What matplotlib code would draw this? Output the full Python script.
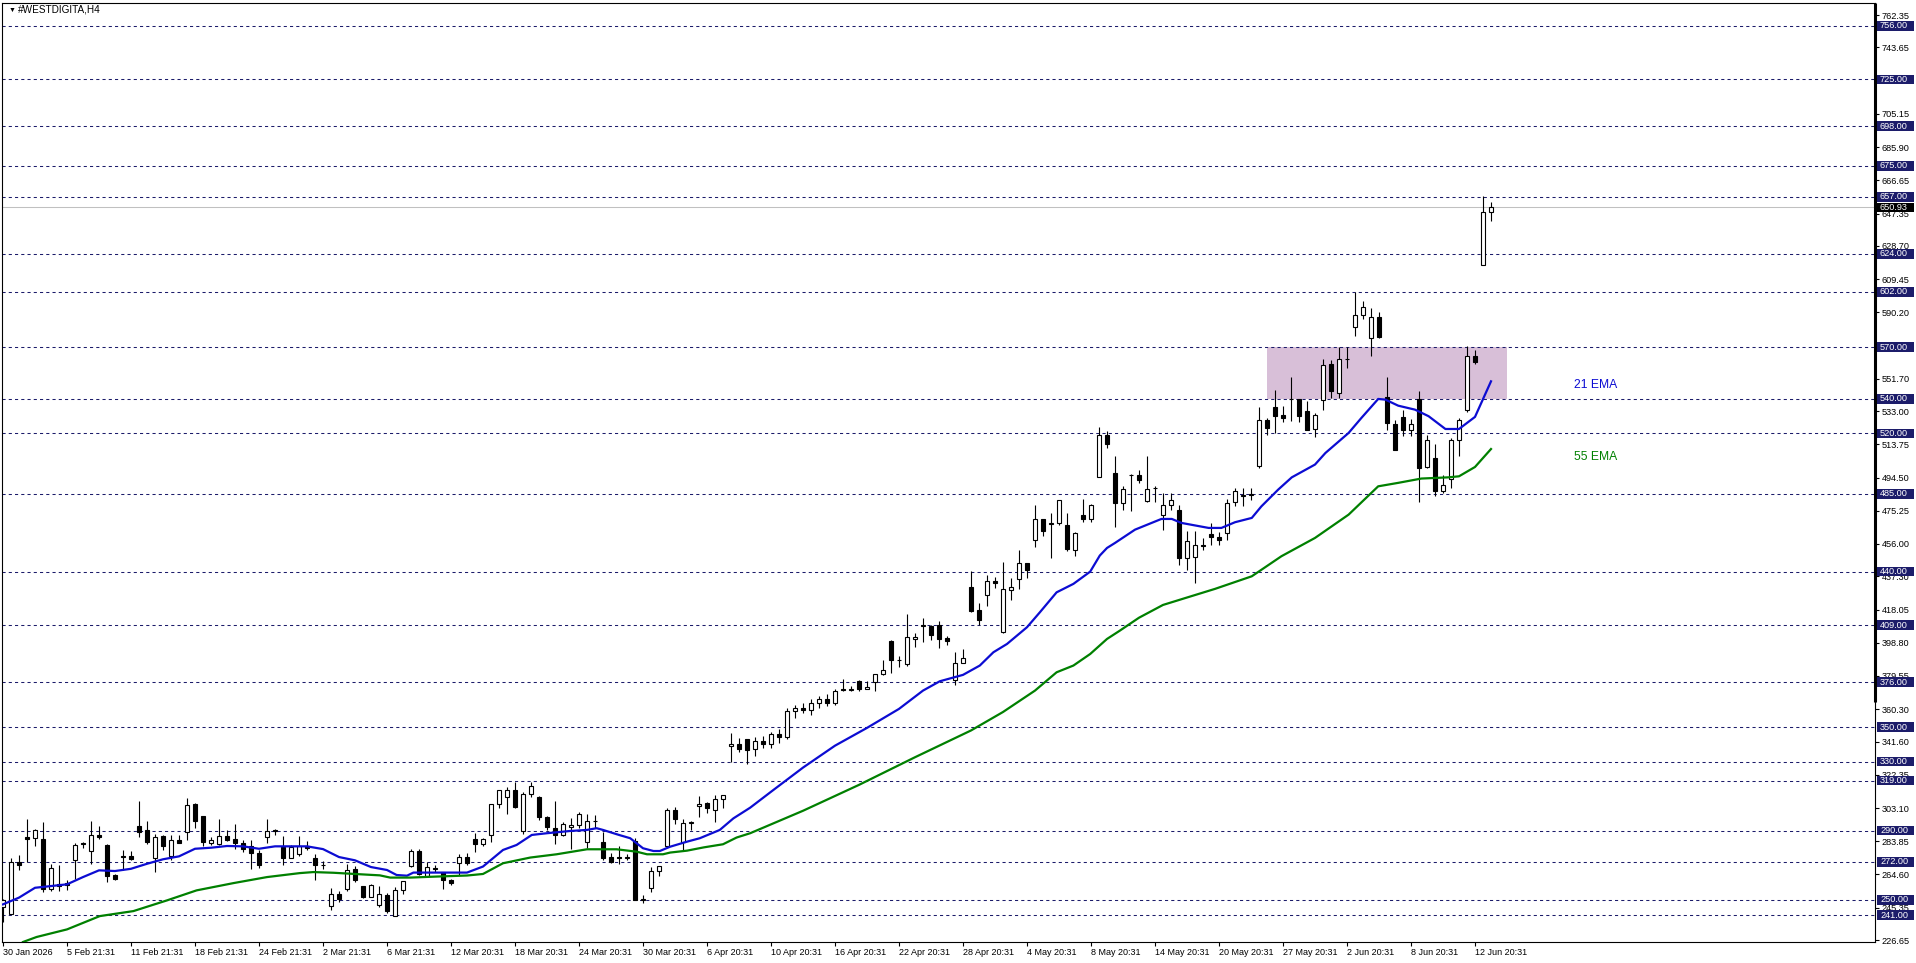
import numpy as np
import matplotlib.pyplot as plt
from matplotlib.patches import Rectangle
from matplotlib.transforms import blended_transform_factory

plt.rcParams['font.family'] = ['Liberation Sans', 'DejaVu Sans']

# ----------------------------------------------------
# #WESTDIGITA H4 candles, bar 0 = 30 Jan 2026
# ----------------------------------------------------
opens = [245.7, 241.9, 271.8, 286.1, 285.9, 284.9, 256.4, 259.3, 259.6, 273.2,
         282.6, 278.2, 287.6, 281.5, 264.1, 275.3, 275.1, 292.8, 290.3, 274.1,
         286.7, 275.3, 284.4, 289.4, 305.2, 298.3, 283.0, 282.2, 287.1, 285.3,
         283.0, 280.9, 277.2, 286.5, 290.3, 280.5, 274.3, 276.6, 281.3, 274.3,
         270.3, 246.1, 253.5, 256.4, 267.6, 257.7, 251.7, 246.8, 252.7, 240.6,
         255.6, 269.5, 278.2, 263.9, 268.4, 265.9, 261.4, 271.1, 274.7, 285.2,
         282.1, 287.5, 305.4, 309.5, 313.6, 289.8, 311.2, 309.7, 297.9, 291.4,
         287.5, 291.9, 293.3, 283.6, 295.4, 283.6, 274.7, 274.6, 274.4, 284.0,
         250.0, 257.0, 266.6, 281.1, 302.0, 283.2, 294.4, 304.3, 305.8, 302.0,
         308.3, 339.0, 340.2, 343.1, 337.0, 342.0, 340.0, 346.0, 344.0, 359.0,
         361.0, 360.0, 364.0, 366.0, 364.0, 371.9, 371.7, 376.9, 372.0, 375.9,
         380.7, 400.0, 388.6, 386.5, 401.0, 408.5, 408.7, 409.1, 401.4, 377.3,
         387.1, 431.3, 417.8, 426.5, 434.8, 405.3, 429.4, 435.8, 445.0, 458.3,
         470.5, 467.8, 468.0, 467.2, 452.7, 473.0, 470.5, 494.8, 519.3, 496.9,
         479.8, 496.2, 496.0, 480.7, 488.5, 472.6, 478.6, 475.9, 447.9, 448.5,
         455.4, 461.8, 460.1, 462.4, 480.2, 483.6, 484.4, 501.0, 528.0, 535.4,
         530.7, 540.2, 540.0, 533.2, 522.6, 539.6, 560.5, 543.5, 563.0, 581.7,
         588.6, 575.3, 587.5, 541.2, 525.7, 529.6, 521.9, 540.2, 500.6, 505.8,
         486.5, 493.7, 516.4, 533.4, 564.7, 617.6, 648.3]
highs = [250.6, 274.3, 275.7, 296.5, 291.1, 295.0, 270.8, 269.9, 261.6, 282.8,
         283.4, 295.6, 292.5, 282.0, 265.1, 279.0, 278.0, 306.9, 295.6, 287.8,
         287.6, 287.6, 287.3, 309.1, 306.0, 298.6, 286.3, 296.9, 290.5, 294.0,
         284.4, 284.4, 278.6, 296.9, 290.7, 286.7, 281.5, 287.1, 283.8, 276.2,
         272.4, 256.6, 255.0, 270.5, 269.3, 258.1, 258.9, 258.1, 254.1, 257.6,
         261.0, 279.4, 279.4, 272.0, 270.1, 266.3, 261.8, 276.3, 277.1, 288.8,
         285.5, 305.6, 313.8, 315.5, 318.4, 312.6, 318.4, 310.3, 298.3, 307.4,
         295.2, 297.5, 301.0, 299.7, 299.1, 289.4, 276.9, 281.1, 276.5, 285.6,
         252.7, 269.2, 269.7, 302.9, 303.5, 296.8, 295.6, 310.3, 306.8, 310.7,
         310.9, 346.8, 343.5, 343.3, 344.0, 345.0, 347.0, 349.0, 361.0, 363.0,
         364.0, 366.0, 368.0, 369.0, 372.0, 377.8, 374.0, 377.3, 376.5, 380.9,
         388.8, 400.2, 391.4, 415.5, 404.5, 413.2, 408.9, 411.6, 402.9, 393.7,
         395.2, 440.6, 421.9, 438.1, 437.1, 445.8, 436.3, 452.7, 445.2, 478.8,
         470.7, 474.0, 481.7, 474.0, 463.2, 482.1, 479.2, 524.0, 521.3, 507.2,
         489.4, 496.4, 499.1, 507.2, 489.4, 485.6, 485.6, 478.8, 463.4, 463.4,
         459.5, 468.2, 462.8, 482.1, 488.5, 488.5, 488.5, 535.4, 529.0, 545.4,
         535.8, 552.7, 540.2, 539.0, 531.9, 563.2, 562.8, 569.9, 569.9, 601.8,
         596.6, 592.7, 590.4, 552.7, 527.6, 533.8, 528.4, 544.4, 519.3, 514.1,
         496.2, 517.4, 529.0, 570.9, 568.6, 657.4, 653.9]
lows = [237.1, 241.5, 267.0, 271.8, 280.9, 254.4, 255.0, 255.0, 255.4, 262.2,
        280.1, 270.8, 285.1, 260.2, 261.6, 267.0, 272.8, 286.3, 282.4, 266.0,
        278.6, 272.8, 282.6, 284.7, 291.7, 280.9, 281.5, 281.5, 284.0, 279.5,
        277.6, 267.9, 268.5, 282.8, 287.6, 270.1, 274.1, 275.5, 278.6, 261.6,
        267.6, 244.2, 248.6, 254.8, 260.4, 250.8, 251.5, 246.0, 242.5, 240.3,
        253.1, 269.0, 264.3, 263.4, 266.3, 256.2, 258.5, 264.3, 270.1, 277.5,
        281.3, 283.2, 303.3, 299.5, 303.3, 287.9, 309.3, 296.0, 290.4, 282.1,
        287.1, 279.4, 291.4, 279.8, 291.4, 273.0, 271.1, 270.5, 273.0, 249.6,
        247.9, 254.3, 263.9, 280.9, 293.7, 278.8, 290.4, 298.1, 300.4, 294.8,
        302.9, 330.0, 335.8, 328.4, 333.0, 338.0, 338.0, 341.0, 343.0, 355.0,
        358.0, 357.0, 361.0, 362.0, 363.0, 371.1, 371.1, 371.1, 371.8, 371.1,
        380.2, 381.1, 384.6, 385.6, 396.2, 399.1, 400.4, 395.8, 397.5, 374.6,
        386.9, 416.4, 409.1, 420.3, 430.5, 404.5, 423.8, 430.0, 436.1, 454.1,
        460.8, 447.9, 467.0, 451.8, 448.9, 468.6, 468.6, 494.6, 511.4, 465.7,
        475.5, 474.9, 491.4, 480.2, 480.2, 464.3, 475.9, 444.1, 440.8, 433.4,
        452.7, 455.6, 455.6, 458.1, 477.8, 477.8, 481.7, 500.0, 519.0, 520.3,
        526.5, 527.1, 526.5, 521.9, 517.8, 533.4, 540.6, 540.4, 558.0, 576.7,
        586.3, 564.7, 575.3, 521.9, 510.3, 518.4, 518.8, 480.2, 500.0, 483.6,
        485.6, 488.5, 507.2, 532.3, 560.5, 617.6, 642.9]
closes = [249.6, 271.8, 269.9, 285.1, 290.1, 256.4, 268.5, 258.1, 258.5, 281.8,
          282.2, 287.6, 286.3, 263.7, 262.0, 274.9, 273.5, 289.4, 283.4, 286.5,
          281.3, 284.4, 283.0, 305.0, 295.7, 283.4, 284.4, 287.1, 284.7, 282.8,
          279.3, 277.0, 270.3, 289.6, 289.6, 274.1, 280.5, 281.3, 279.7, 269.9,
          269.9, 253.5, 250.6, 267.4, 261.2, 251.5, 258.7, 253.1, 243.7, 255.6,
          260.8, 278.2, 264.7, 268.8, 268.0, 261.4, 259.5, 274.7, 271.1, 282.1,
          285.2, 305.4, 313.6, 313.6, 303.5, 311.2, 315.9, 297.9, 291.9, 287.5,
          293.7, 293.3, 299.7, 295.6, 295.8, 274.4, 271.7, 274.2, 274.8, 249.8,
          250.4, 266.6, 269.5, 302.0, 296.6, 294.4, 294.8, 305.4, 302.9, 308.3,
          310.7, 340.2, 337.1, 336.7, 342.0, 340.0, 346.0, 344.0, 359.0, 361.0,
          360.0, 364.0, 366.0, 364.0, 371.0, 371.5, 371.9, 372.0, 373.4, 380.7,
          383.1, 388.8, 389.0, 402.0, 402.4, 408.9, 403.3, 401.0, 399.8, 387.1,
          390.0, 417.0, 412.0, 434.8, 433.4, 430.0, 431.3, 445.0, 441.0, 470.5,
          463.4, 468.2, 481.5, 452.9, 462.4, 470.5, 478.8, 519.3, 513.9, 479.5,
          487.9, 495.8, 493.3, 487.9, 488.3, 478.8, 481.3, 447.9, 458.0, 455.4,
          455.0, 460.1, 458.1, 479.8, 486.5, 484.6, 484.8, 528.0, 523.2, 530.0,
          528.8, 539.8, 530.0, 522.2, 530.9, 559.9, 544.4, 563.2, 563.4, 588.8,
          593.3, 587.5, 575.7, 526.1, 510.7, 521.9, 525.7, 500.0, 516.1, 486.5,
          490.4, 516.4, 528.0, 564.7, 561.2, 648.3, 650.93]

# moving averages (bar position, price)
ema21_x = [0, 2, 4, 6, 8, 10, 12, 14, 16, 18, 20, 22, 24, 26, 28, 30, 32, 34, 36, 38,
           40, 42, 44, 46, 48, 49.2, 50.5, 51.3, 54.2, 58, 60, 62.5, 64.2, 66.1, 68,
           70.9, 73, 74.2, 75, 77, 78.4, 80, 81.3, 82.1, 83.4, 85.5, 87.1, 89.6, 91.3,
           93.4, 96, 100, 104, 108, 112, 115, 117.1, 120, 122.1, 123.8, 125.5, 128,
           129.6, 131.7, 133.8, 135.9, 137.1, 138, 139, 141.5, 144.8, 146.1, 147.3,
           150.7, 152.3, 154, 156.1, 157.3, 159.4, 161.1, 164, 165.3, 168.2, 169.8,
           171.9, 172.8, 174.4, 176.5, 178.2, 180.3, 182, 184, 186]
ema21_y = [247.3, 251.2, 256.9, 257.9, 258.9, 263.1, 267.0, 266.6, 267.9, 270.8,
           273.4, 275.1, 279.5, 280.1, 281.1, 280.9, 279.5, 280.9, 280.9, 280.9,
           279.3, 274.7, 272.8, 268.9, 267.2, 264.3, 263.9, 265.7, 265.7, 265.7,
           269.2, 278.8, 281.7, 287.5, 288.5, 289.8, 290.4, 291.4, 290.4, 287.5,
           285.6, 279.8, 278.2, 278.2, 280.7, 283.6, 285.6, 290.4, 297.1, 303.3,
           312.5, 326.5, 339.2, 349.5, 360.5, 371.1, 376.5, 380.2, 385.6, 393.3,
           398.1, 407.8, 416.4, 428.0, 432.9, 440.0, 449.3, 453.7, 456.6, 464.3,
           470.5, 470.5, 468.2, 465.3, 465.3, 468.6, 471.1, 477.8, 487.5, 494.6,
           502.0, 508.7, 520.3, 529.0, 540.0, 539.6, 536.1, 533.8, 530.0, 522.6,
           522.6, 529.6, 550.2]
ema55_x = [2.5, 4.2, 8, 12.1, 16.3, 20.5, 24.2, 28.8, 33, 37.1, 38.8, 41.3, 45.5,
           47.1, 48.4, 50.9, 54.2, 58, 60, 62.5, 65.9, 69.2, 73, 76.7, 79.2, 80.5,
           82.5, 83.4, 85.5, 87.6, 90, 91.7, 93.4, 100, 107, 114, 121, 125, 129,
           131.7, 133.8, 135.9, 138, 139.6, 142, 145, 148, 151.5, 156.1, 159.8, 164,
           168.2, 171.9, 174.4, 177.3, 180.7, 182, 184, 186]
ema55_y = [225.5, 228.4, 232.8, 240.5, 243.4, 249.6, 255.4, 259.6, 263.1, 265.4,
           266.0, 265.6, 264.5, 264.1, 262.8, 262.8, 263.4, 264.0, 264.9, 271.1,
           274.4, 276.3, 279.2, 279.2, 277.8, 276.3, 276.3, 277.3, 278.4, 280.3,
           282.1, 286.0, 288.5, 301.5, 316.5, 332.5, 348.0, 358.7, 371.1, 381.7,
           385.6, 392.3, 401.0, 405.8, 413.3, 420.7, 425.0, 430.0, 437.3, 448.9,
           459.5, 473.0, 489.4, 491.4, 493.9, 494.6, 495.2, 500.6, 511.0]

levels = [756, 725, 698, 675, 657, 624, 602, 570, 540, 520, 485, 440, 409,
          376, 350, 330, 319, 290, 272, 250, 241]
price_ticks = [762.35, 743.65, 724.40, 705.15, 685.90, 666.65, 647.35, 628.70,
               609.45, 590.20, 570.95, 551.70, 533.00, 513.75, 494.50, 475.25,
               456.00, 437.30, 418.05, 398.80, 379.55, 360.30, 341.60, 322.35,
               303.10, 283.85, 264.60, 245.35, 226.65]
date_labels = ["30 Jan 2026", "5 Feb 21:31", "11 Feb 21:31", "18 Feb 21:31",
               "24 Feb 21:31", "2 Mar 21:31", "6 Mar 21:31", "12 Mar 20:31",
               "18 Mar 20:31", "24 Mar 20:31", "30 Mar 20:31", "6 Apr 20:31",
               "10 Apr 20:31", "16 Apr 20:31", "22 Apr 20:31", "28 Apr 20:31",
               "4 May 20:31", "8 May 20:31", "14 May 20:31", "20 May 20:31",
               "27 May 20:31", "2 Jun 20:31", "8 Jun 20:31", "12 Jun 20:31"]
last_price = 650.93
zone_lo, zone_hi = 540, 570
zone_from, zone_to = 158, 188

FS = 6.6
NAVY = '#1c1c6a'

fig = plt.figure(figsize=(19.16, 9.63), dpi=100)
ax = fig.add_axes([2 / 1916, 21 / 963, 1873 / 1916, 939 / 963])
ax.set_xlim(-0.125, -0.125 + 1873 / 8)
ax.set_ylim(225.5, 769.3)

# levels and zone
for lv in levels:
    ax.axhline(lv, color=NAVY, lw=0.75, ls=(0, (3, 3)), zorder=2)
ax.axhline(last_price, color='#c0c0c0', lw=0.75, zorder=1.5)
ax.add_patch(Rectangle((zone_from, zone_lo), zone_to - zone_from, zone_hi - zone_lo,
                       facecolor='#d8bfd8', edgecolor='none', zorder=1))

# candles
o = np.array(opens)
c = np.array(closes)
x = np.arange(len(o))
up = c >= o
body_lo = np.minimum(o, c)
body_h = np.maximum(np.abs(c - o), 0.35)
ax.vlines(x, lows, highs, color='black', lw=0.8, zorder=3)
ax.bar(x[up], body_h[up], bottom=body_lo[up], width=0.5, color='white',
       edgecolor='black', lw=0.8, zorder=4)
ax.bar(x[~up], body_h[~up], bottom=body_lo[~up], width=0.5, color='black',
       edgecolor='black', lw=0.8, zorder=4)

# EMAs
ax.plot(ema21_x, ema21_y, color='#0c0cd2', lw=1.6, zorder=5)
ax.plot(ema55_x, ema55_y, color='#008000', lw=1.6, zorder=5)
ax.text(196.4, 548.1, "21 EMA", color='#0c0cd2', fontsize=8.7, va='center')
ax.text(196.4, 506.4, "55 EMA", color='#008000', fontsize=8.7, va='center')

# axes look
for s in ax.spines.values():
    s.set_color('black')
    s.set_linewidth(0.8)
ax.plot([1, 1], [0.2556, 1], transform=ax.transAxes, color='black', lw=2.2,
        clip_on=False, solid_capstyle='butt', zorder=6)

ax.yaxis.tick_right()
ax.set_yticks(price_ticks)
ax.set_yticklabels([f"{v:.2f}" for v in price_ticks])
ax.tick_params(axis='y', length=3, width=0.8, pad=2, labelsize=FS, colors='black')
ax.set_xticks(np.arange(0, 8 * len(date_labels), 8))
ax.set_xticklabels(date_labels, ha='left')
ax.tick_params(axis='x', length=3, width=0.8, pad=1.5, labelsize=6.5, colors='black')

# level labels on the price scale
trans = blended_transform_factory(ax.transAxes, ax.transData)
px = 1 / 1873
for lv, fc in [(v, NAVY) for v in levels] + [(last_price, 'black')]:
    ax.add_patch(Rectangle((1 + 2 * px, lv - 2.8), 37 * px, 5.6, transform=trans,
                           facecolor=fc, edgecolor='none', clip_on=False, zorder=7))
    ax.text(1 + 5 * px, lv, f"{lv:.2f}", transform=trans, color='white',
            fontsize=FS, va='center', ha='left', zorder=8, clip_on=False)

fig.text(9 / 1916, 1 - 10 / 963, "\u25bc", fontsize=5, va='center', ha='left')
fig.text(18 / 1916, 1 - 10 / 963, "#WESTDIGITA,H4", fontsize=7.2, va='center', ha='left')

fig.savefig('out.png', dpi=100)
